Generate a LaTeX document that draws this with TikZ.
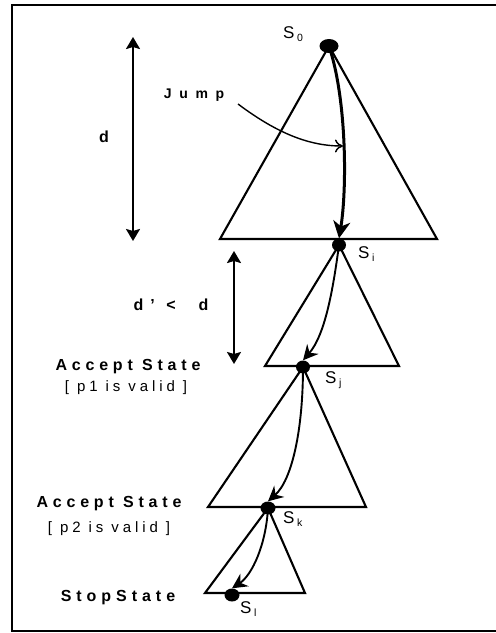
\documentclass[tikz,border=0pt]{standalone}
\usepackage{fontspec}
\setmainfont{Liberation Sans}
\usetikzlibrary{arrows.meta,shapes.geometric}
\newcommand{\trk}[2]{{\addfontfeature{LetterSpace=#1}#2}}
\newcommand{\subs}[1]{\hspace{2.5pt}\raisebox{-3pt}{\fontsize{10.5}{10.5}\selectfont #1}}
\begin{document}
\begin{tikzpicture}[x=1pt,y=-1pt,
  dot/.style={ellipse, fill=black, inner sep=0pt, minimum width=14pt, minimum height=13pt},
  blbl/.style={font=\fontsize{16}{18}\selectfont\bfseries, inner sep=0pt},
  rlbl/.style={font=\fontsize{15}{17}\selectfont, inner sep=0pt},
  slbl/.style={font=\fontsize{17}{19}\selectfont, inner sep=0pt, anchor=base west},
  tri/.style={line width=2.1pt, line join=miter},
  jumpline/.style={line width=3pt, -{Stealth[length=17pt,width=17pt,inset=5pt]}},
  stepline/.style={line width=1.9pt, -{Stealth[length=15pt,width=15pt,inset=5pt]}},
  thinarrow/.style={line width=1.4pt, -{To[length=8pt,width=13pt]}},
  dim/.style={line width=2.2pt, {Stealth[length=12pt,width=14pt,inset=2pt]}-{Stealth[length=12pt,width=14pt,inset=2pt]}},
  frame/.style={line width=2.2pt}]
\useasboundingbox (0,0) rectangle (496,633);
% frame (right side beyond the picture)
\draw[frame] (500,5) -- (12,5) -- (12,631) -- (500,631);

% state dots
\node[dot, minimum width=19pt, minimum height=14pt] (S0) at (329,46) {};
\node[dot] (Si) at (339,245) {};
\node[dot] (Sj) at (303,367) {};
\node[dot, minimum width=15pt] (Sk) at (268,508) {};
\node[dot, minimum width=15pt] (Sl) at (232,595) {};

% triangle corners
\coordinate (A1) at (220,239);
\coordinate (B1) at (437,239);
\coordinate (A2) at (265,366);
\coordinate (B2) at (399,366);
\coordinate (A3) at (208,507);
\coordinate (B3) at (366,507);
\coordinate (A4) at (205,593);
\coordinate (B4) at (305,593);

\draw[tri] (S0.center) -- (A1) -- (B1) -- cycle;
\draw[tri] (Si.center) -- (A2) -- (B2) -- cycle;
\draw[tri] (Sj.center) -- (A3) -- (B3) -- cycle;
\draw[tri] (Sk.center) -- (A4) -- (B4) -- cycle;

% transitions
\draw[jumpline] (S0.center) .. controls (347,100) and (347,190) .. (Si.north);
\draw[stepline] (Si.center) .. controls (333,290) and (325,335) .. (Sj.north);
\draw[stepline] (Sj.center) .. controls (303,430) and (292,480) .. (Sk.north);
\draw[stepline] (Sk.center) .. controls (266,545) and (252,575) .. (Sl.north);

% jump label and arrow
\node[blbl, font=\fontsize{14}{16}\selectfont\bfseries, anchor=base] (jump) at (194,98) {\trk{55}{Jump}};
\coordinate (jstart) at (238,104);
\coordinate (jend) at (343,146);
\draw[thinarrow] (jstart) .. controls (278,134) and (310,146) .. (jend);

% dimension arrows
\coordinate (d1t) at (133,37);
\coordinate (d1b) at (133,241);
\draw[dim] (d1t) -- (d1b);
\node[blbl, anchor=base] (dlab) at (104,142) {d};
\coordinate (d2t) at (234,251);
\coordinate (d2b) at (234,364);
\draw[dim] (d2t) -- (d2b);
\node[blbl, anchor=base] (dplab) at (171,310) {\trk{44}{d’ <\ \ d}};

% state labels
\node[slbl] (lS0) at (283,38) {S\subs{0}};
\node[slbl] (lSi) at (358,258) {S\subs{i}};
\node[slbl] (lSj) at (325,383) {S\subs{j}};
\node[slbl] (lSk) at (283,523) {S\subs{k}};
\node[slbl] (lSl) at (240,613) {S\subs{l}};

% side texts
\node[blbl, anchor=base] (acc1) at (128,370) {\trk{30}{Accept State}};
\node[rlbl, anchor=base] (val1) at (126,391) {\trk{26}{[ p1 is valid ]}};
\node[blbl, anchor=base] (acc2) at (109,507) {\trk{30}{Accept State}};
\node[rlbl, anchor=base] (val2) at (109,532) {\trk{26}{[ p2 is valid ]}};
\node[blbl, anchor=base] (stop) at (118,601) {\trk{31}{StopState}};
\end{tikzpicture}
\end{document}
